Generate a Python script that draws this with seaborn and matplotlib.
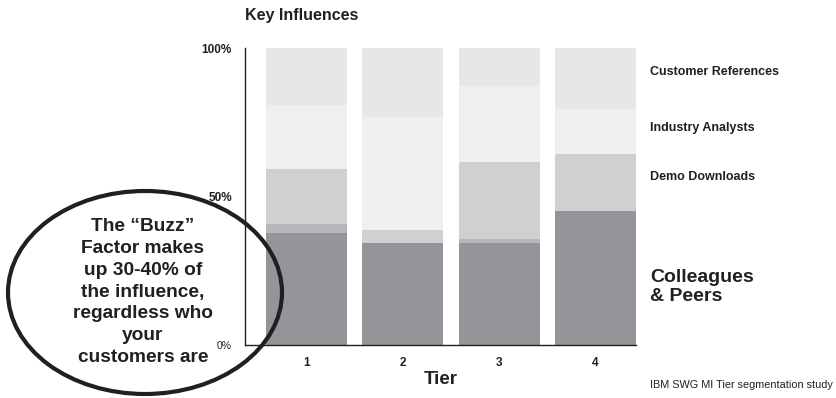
import matplotlib
matplotlib.use("Agg")
import matplotlib.pyplot as plt
import numpy as np
import pandas as pd
import seaborn as sns
from matplotlib.patches import Ellipse

# Share of influence per tier (percent of each bar, bottom to top)
tiers = ["1", "2", "3", "4"]
colleagues_peers = [37.8, 34.4, 34.4, 45.2]
other_buzz = [3.0, 0.0, 1.3, 0.0]
demo_downloads = [18.5, 4.4, 26.0, 19.2]
industry_analysts = [21.6, 38.1, 25.6, 15.2]
customer_references = [19.1, 23.1, 12.7, 20.4]

segment_colors = ["#949599", "#b6b7ba", "#cfd0d2", "#efefef", "#e6e7e9"]
y_tick_values = [0, 50, 100]
y_tick_labels = ["0%", "50%", "100%"]

callout_lines = ["The \u201cBuzz\u201d", "Factor makes", "up 30-40% of",
                 "the influence,", "regardless who", "your", "customers are"]

sns.set_style("white")
plt.rcParams["font.family"] = ["Liberation Sans", "DejaVu Sans"]

W, H = 837, 398
fig = plt.figure(figsize=(W / 100, H / 100), dpi=100)
ax = fig.add_axes([245 / W, (H - 345) / H, 391 / W, (345 - 48.3) / H])

segments = [colleagues_peers, other_buzz, demo_downloads,
            industry_analysts, customer_references]
cumulative = np.cumsum(np.array(segments), axis=0)

# Stacked look: draw the running totals from the tallest down so each
# lower layer covers the part of the taller bar beneath it.
for i in range(len(segments) - 1, -1, -1):
    df = pd.DataFrame({"tier": tiers, "share": cumulative[i]})
    sns.barplot(data=df, x="tier", y="share", order=tiers, color=segment_colors[i],
                saturation=1, width=0.84, errorbar=None, linewidth=0,
                edgecolor="none", ax=ax)

ax.set_xlim(-0.638, 3.42)
ax.set_ylim(0, 100)

for side in ["top", "right"]:
    ax.spines[side].set_visible(False)
for side in ["left", "bottom"]:
    ax.spines[side].set_color("#231f20")
    ax.spines[side].set_linewidth(1.0)

# x axis: category labels without marks, short separators between tiers
ax.set_xticks(range(len(tiers)))
ax.set_xticklabels(tiers, fontsize=8.5, fontweight="bold", color="#231f20")
ax.set_xticks([0.5, 1.5, 2.5], minor=True)
ax.tick_params(axis="x", which="major", length=0, pad=9)
ax.tick_params(axis="x", which="minor", length=4, width=1, direction="out",
               color="#231f20")
ax.set_xlabel("Tier", fontsize=13.5, fontweight="bold", color="#231f20", labelpad=1)

# y axis
ax.set_yticks(y_tick_values)
ax.set_yticklabels(y_tick_labels, fontsize=8.5, fontweight="bold", color="#231f20")
ax.tick_params(axis="y", length=5, width=1, direction="out", pad=4.5, color="#231f20")
zero_tick = ax.yaxis.get_major_ticks()[0]
zero_tick.tick1line.set_visible(False)
zero_tick.label1.set_fontweight("normal")
zero_tick.label1.set_fontsize(7.5)
ax.set_ylabel("")

ax.text(0, 1.0 + 33 / 296.7, "Key Influences", transform=ax.transAxes,
        fontsize=11.5, fontweight="bold", color="#231f20", ha="left", va="center")


def fig_y(px):
    return 1 - px / H


# Segment names to the right of the last bar
label_x = 650 / W
fig.text(label_x, fig_y(71.7), "Customer References", fontsize=9, fontweight="bold",
         color="#231f20", va="center")
fig.text(label_x, fig_y(128.3), "Industry Analysts", fontsize=9, fontweight="bold",
         color="#231f20", va="center")
fig.text(label_x, fig_y(176.7), "Demo Downloads", fontsize=9, fontweight="bold",
         color="#231f20", va="center")
fig.text(label_x, fig_y(287), "Colleagues\n& Peers", fontsize=14, fontweight="bold",
         color="#231f20", va="center", linespacing=1.15)

fig.text(650 / W, fig_y(385), "IBM SWG MI Tier segmentation study", fontsize=7.8,
         color="#231f20", va="center")

# Callout ellipse with its message
ell = Ellipse((145 / W, fig_y(292.5)), 274 / W, 203 / H, transform=fig.transFigure,
              fill=False, edgecolor="#231f20", linewidth=3.0, zorder=10)
fig.add_artist(ell)
first_line_y, line_step = 225.0, 21.7
for k, line in enumerate(callout_lines):
    fig.text(143 / W, fig_y(first_line_y + k * line_step), line,
             fontsize=13.8, fontweight="bold", color="#231f20",
             ha="center", va="center_baseline", zorder=11)

fig.savefig("out.png", dpi=100)
